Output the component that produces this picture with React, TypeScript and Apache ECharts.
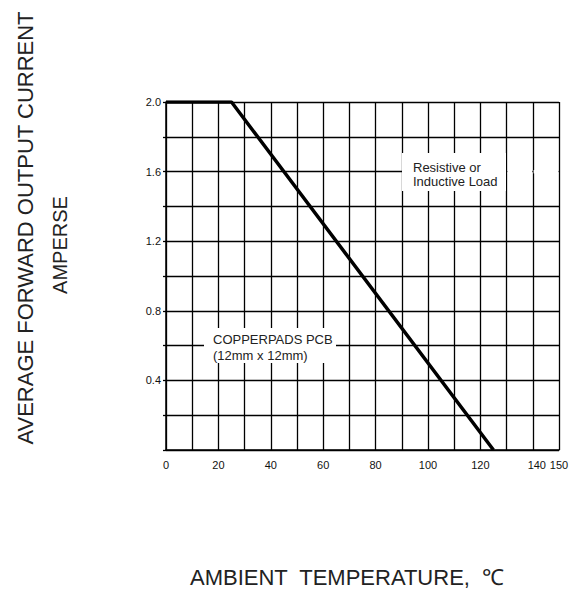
import React, { useEffect, useRef } from "react";
import * as echarts from "echarts";

// Derating curve points: [ambient temperature °C, current A]
const curveTemps = [0, 25, 125];
const curveCurrents = [2.0, 2.0, 0];

const xTickLabels = ["0", "20", "40", "60", "80", "100", "120", "140", "150"];
const yTickLabels = ["0.4", "0.8", "1.2", "1.6", "2.0"];

const xTitle = "AMBIENT  TEMPERATURE,  ℃";
const yTitle1 = "AVERAGE FORWARD OUTPUT CURRENT";
const yTitle2 = "AMPERSE";
const note1 = ["Resistive or", "Inductive Load"];
const note2 = ["COPPERPADS PCB", "(12mm x 12mm)"];

const FONT = "'Liberation Sans', Arial, Helvetica, sans-serif";

export default function App() {
  const ref = useRef<HTMLDivElement>(null);

  useEffect(() => {
    if (!ref.current) return;
    const chart = echarts.init(ref.current, null, { renderer: "svg" });
    const data = curveTemps.map((t, i) => [t, curveCurrents[i]]);

    chart.setOption({
      animation: false,
      backgroundColor: "#ffffff",
      grid: { left: 166, top: 102, width: 393, height: 348, show: false },
      xAxis: {
        type: "value",
        min: 0,
        max: 150,
        interval: 10,
        axisLine: { show: true, lineStyle: { color: "#000", width: 1.5 } },
        axisTick: { show: false },
        splitLine: { show: true, lineStyle: { color: "#000", width: 1.3 } },
        axisLabel: {
          margin: 9,
          fontSize: 11,
          fontFamily: FONT,
          color: "#111",
          showMaxLabel: true,
          formatter: (v: number) => {
            const s = String(Math.round(v));
            if (!xTickLabels.includes(s)) return "";
            if (s === "140") return "{s|" + s + "}";
            return "{n|" + s + "}";
          },
          rich: {
            s: { padding: [0, 0, 0, 8], fontSize: 11, fontFamily: FONT, color: "#111" },
            n: { fontSize: 11, fontFamily: FONT, color: "#111" },
          },
        },
      },
      yAxis: {
        type: "value",
        min: 0,
        max: 2,
        interval: 0.2,
        axisLine: { show: true, lineStyle: { color: "#000", width: 1.5 } },
        axisTick: { show: true, length: 3, lineStyle: { color: "#000", width: 1.3 } },
        splitLine: { show: true, lineStyle: { color: "#000", width: 1.3 } },
        axisLabel: {
          margin: 5,
          fontSize: 11,
          fontFamily: FONT,
          color: "#111",
          showMaxLabel: true,
          formatter: (v: number) => {
            const s = v.toFixed(1);
            return yTickLabels.includes(s) ? s : "";
          },
        },
      },
      series: [
        {
          type: "line",
          data,
          showSymbol: false,
          symbol: "none",
          lineStyle: { color: "#000", width: 3.5 },
          z: 5,
        },
      ],
      graphic: [
        {
          type: "rect",
          shape: { x: 402, y: 153, width: 104, height: 38 },
          style: { fill: "#fff" },
          z: 10,
        },
        {
          type: "rect",
          shape: { x: 507.4, y: 170, width: 24.9, height: 3.4 },
          style: { fill: "#fff" },
          z: 10,
        },
        {
          type: "rect",
          shape: { x: 533.6, y: 170, width: 24.9, height: 3.4 },
          style: { fill: "#fff" },
          z: 10,
        },
        {
          type: "text",
          x: 413,
          y: 160,
          style: {
            text: note1.join("\n"),
            font: "13px " + FONT,
            fill: "#222",
            lineHeight: 14,
            verticalAlign: "top",
          },
          z: 11,
        },
        {
          type: "rect",
          shape: { x: 204, y: 328, width: 132, height: 35 },
          style: { fill: "#fff" },
          z: 10,
        },
        {
          type: "text",
          x: 213,
          y: 331,
          style: {
            text: note2.join("\n"),
            font: "13px " + FONT,
            fill: "#222",
            lineHeight: 16,
            verticalAlign: "top",
          },
          z: 11,
        },
        {
          type: "text",
          x: 25,
          y: 228,
          rotation: Math.PI / 2,
          style: {
            text: yTitle1,
            font: "22px " + FONT,
            fill: "#222",
            align: "center",
            verticalAlign: "middle",
          },
        },
        {
          type: "text",
          x: 60,
          y: 245,
          rotation: Math.PI / 2,
          style: {
            text: yTitle2,
            font: "20px " + FONT,
            fill: "#222",
            align: "center",
            verticalAlign: "middle",
          },
        },
        {
          type: "text",
          x: 190,
          y: 577,
          style: {
            text: xTitle,
            font: "22px " + FONT,
            fill: "#222",
            align: "left",
            verticalAlign: "middle",
          },
        },
      ],
    });
    return () => chart.dispose();
  }, []);

  return (
    <div
      ref={ref}
      style={{ position: "fixed", left: 0, top: 0, width: 577, height: 595, background: "#fff" }}
    />
  );
}
